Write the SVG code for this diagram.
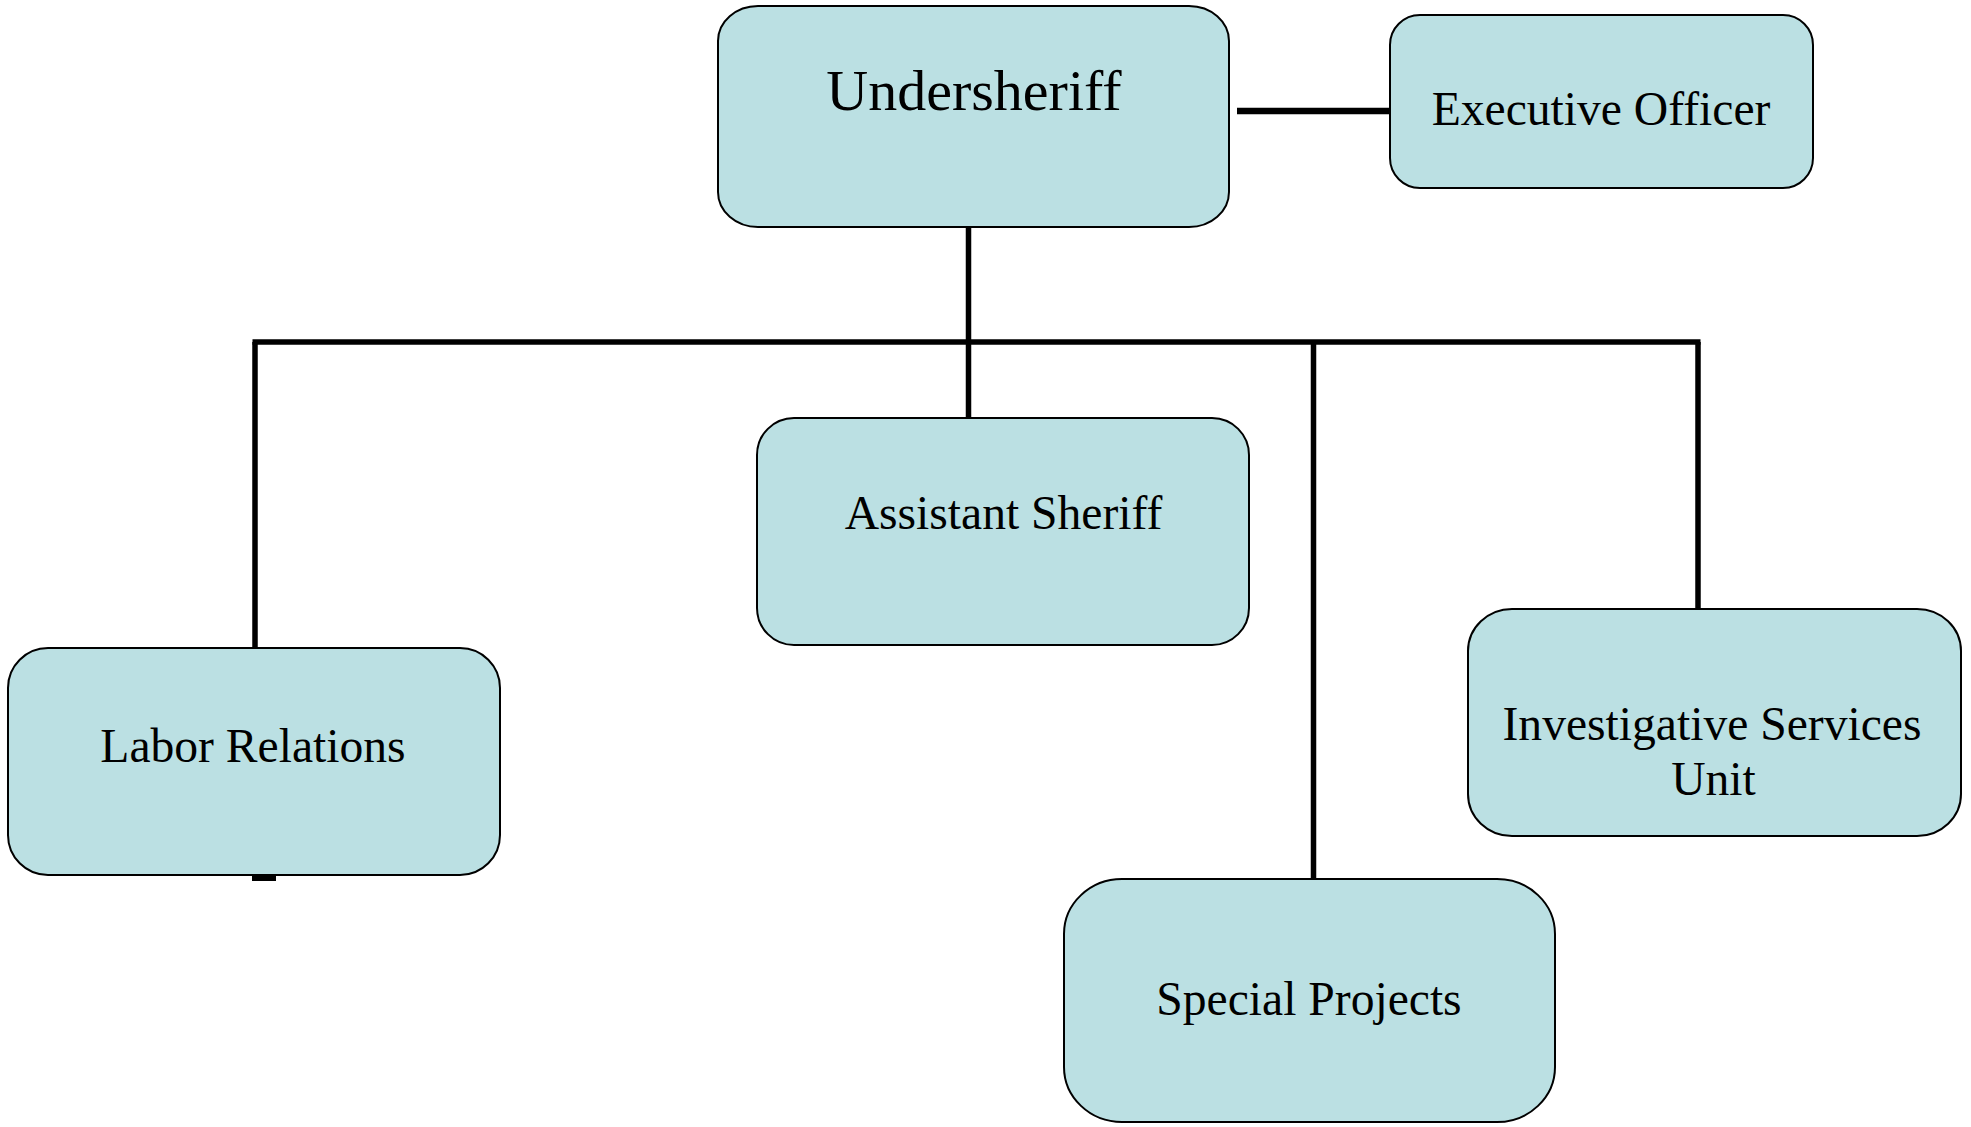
<svg xmlns="http://www.w3.org/2000/svg" width="1971" height="1127" viewBox="0 0 1971 1127">
<style>
.box{fill:#BBE0E3;stroke:#000;stroke-width:2}
.lbl{font-family:"Liberation Serif","Times New Roman",serif;font-size:47.6px;fill:#000;text-anchor:middle}
.ln{stroke:#000;stroke-width:5.5;fill:none}
</style>
<rect width="1971" height="1127" fill="#fff"/>
<g id="connectors">
<line class="ln" x1="968.5" y1="227" x2="968.5" y2="418"/>
<line class="ln" x1="252.5" y1="342" x2="1700.5" y2="342"/>
<line class="ln" x1="255" y1="342" x2="255" y2="648"/>
<line class="ln" x1="1313.5" y1="342" x2="1313.5" y2="879"/>
<line class="ln" x1="1698" y1="342" x2="1698" y2="609"/>
<line class="ln" x1="1237" y1="111" x2="1390" y2="111" style="stroke-width:6.5"/>
<rect x="252" y="874" width="24" height="7" fill="#000"/>
</g>
<g id="undersheriff">
<rect class="box" x="718" y="6" width="511" height="221" rx="40" ry="35"/>
<text class="lbl" x="974" y="110" style="font-size:58px">Undersheriff</text>
</g>
<g id="executive-officer">
<rect class="box" x="1390" y="15" width="423" height="173" rx="30" ry="30"/>
<text class="lbl" x="1601" y="125">Executive Officer</text>
</g>
<g id="assistant-sheriff">
<rect class="box" x="757" y="418" width="492" height="227" rx="37" ry="37"/>
<text class="lbl" x="1003.5" y="529">Assistant Sheriff</text>
</g>
<g id="labor-relations">
<rect class="box" x="8" y="648" width="492" height="227" rx="40" ry="40"/>
<text class="lbl" x="253" y="761.5">Labor Relations</text>
</g>
<g id="investigative-services">
<rect class="box" x="1468" y="609" width="493" height="227" rx="44" ry="42"/>
<text class="lbl" x="1712" y="740">Investigative Services</text>
<text class="lbl" x="1713.5" y="795">Unit</text>
</g>
<g id="special-projects">
<rect class="box" x="1064" y="879" width="491" height="243" rx="58" ry="55"/>
<text class="lbl" x="1309" y="1014.5">Special Projects</text>
</g>
</svg>
